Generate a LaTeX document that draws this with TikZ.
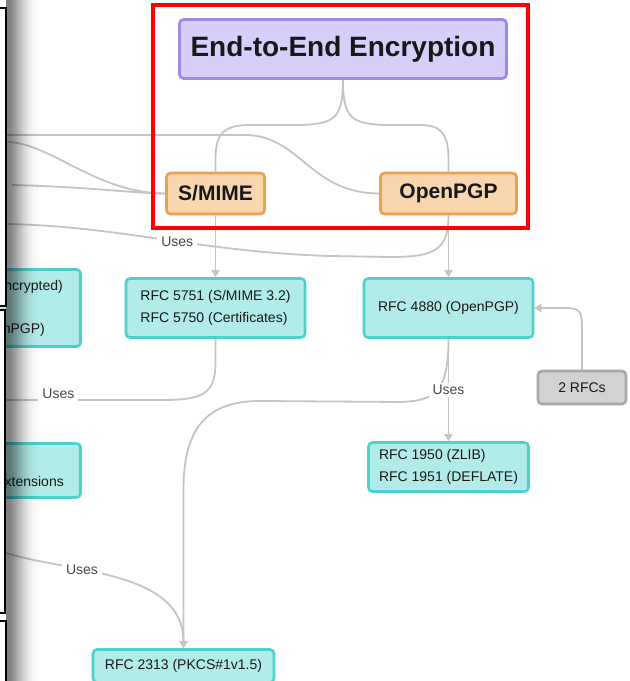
\documentclass[tikz,border=0pt]{standalone}
\usepackage{fontspec}
\setmainfont{Liberation Sans}
\usepackage{xcolor}
\usepackage{tikz}
\usetikzlibrary{positioning,arrows.meta}

\tikzset{
  box/.style={rounded corners=4pt, line width=2.6pt, inner sep=0pt, text=textColor},
  topic/.style={box, draw=topicBorder, fill=topicFill, font=\bfseries\fontsize{28}{34}\selectfont},
  proto/.style={box, draw=protoBorder, fill=protoFill, font=\bfseries\fontsize{21}{25}\selectfont},
  rfc/.style={box, draw=rfcBorder, fill=rfcFill, font=\fontsize{14}{22}\selectfont, align=left},
  note/.style={box, draw=noteBorder, fill=noteFill, font=\fontsize{14}{17}\selectfont},
  frag/.style={text=textColor, font=\fontsize{14}{17}\selectfont, inner sep=0pt},
  link/.style={draw=linkColor, line width=1.8pt},
  linkArrow/.style={link, -{Triangle[length=7pt,width=8pt]}},
  uses/.style={fill=white, text=usesColor, font=\fontsize{14}{17}\selectfont, inner xsep=4pt, inner ysep=2pt},
  panel/.style={draw=black, fill=white, line width=2.5pt}
}

\begin{document}
\begin{tikzpicture}[x=1pt,y=1pt]
\definecolor{topicFill}{RGB}{216,206,250}
\definecolor{topicBorder}{RGB}{158,136,238}
\definecolor{protoFill}{RGB}{249,214,176}
\definecolor{protoBorder}{RGB}{238,160,80}
\definecolor{rfcFill}{RGB}{178,236,234}
\definecolor{rfcBorder}{RGB}{78,208,204}
\definecolor{noteFill}{RGB}{210,210,210}
\definecolor{noteBorder}{RGB}{168,168,168}
\definecolor{linkColor}{RGB}{196,196,196}
\definecolor{textColor}{RGB}{24,24,24}
\definecolor{usesColor}{RGB}{72,72,72}
\path[use as bounding box,fill=white] (0,0) rectangle (630,681);

\node[topic, minimum width=327pt, minimum height=59pt] (e2e) at (343,632) {End-to-End Encryption};
\node[proto, minimum width=98pt, minimum height=41pt] (smime) at (215.5,487.5) {S/MIME};
\node[proto, minimum width=136pt, minimum height=41pt] (openpgp) at (448.5,487.5) {OpenPGP};

\node[rfc, minimum width=109pt, minimum height=77pt] (pgpmime) at (26,373) {};
\node[rfc, minimum width=109pt, minimum height=54pt] (mimeext) at (26,210.5) {};
\node[frag, anchor=east] (pgpmimeTop) at (63,394) {ncrypted)};
\node[frag, anchor=east] (pgpmimeBot) at (45,351) {nPGP)};
\node[frag, anchor=east] (mimeextText) at (64,200) {xtensions};

\node[rfc, minimum width=179pt, minimum height=59pt] (r5751) at (215.5,373) {RFC 5751 (S/MIME 3.2)\\RFC 5750 (Certificates)};
\node[rfc, minimum width=169pt, minimum height=59pt] (r4880) at (448.5,373) {RFC 4880 (OpenPGP)};
\node[note, minimum width=88pt, minimum height=33pt] (twoRFCs) at (582,293.5) {2 RFCs};
\node[rfc, minimum width=160pt, minimum height=49pt] (r1950) at (448.5,214) {RFC 1950 (ZLIB)\\RFC 1951 (DEFLATE)};
\node[rfc, minimum width=181pt, minimum height=33pt] (r2313) at (183.5,15) {RFC 2313 (PKCS\#1v1.5)};

\coordinate (inA) at (6,546);
\coordinate (inB) at (6,539);
\coordinate (inC) at (12,496);
\coordinate (inD) at (6,457);
\coordinate (outE) at (6,281);
\coordinate (inF) at (6,128);

\draw[link] (e2e.south) .. controls (343,563) and (335,557) .. (300,556) -- (250,556) .. controls (222,556) and (215.5,546) .. (215.5,521) -- (smime.north);
\draw[link] (e2e.south) .. controls (343,563) and (351,557) .. (386,556) -- (420,556) .. controls (442,556) and (448.5,546) .. (448.5,521) -- (openpgp.north);

\draw[link] (inA) -- (245,546) .. controls (300,546) and (310,487.5) .. (openpgp.west);
\draw[link] (inB) .. controls (50,539) and (95,488) .. (smime.west);
\draw[link] (inC) .. controls (90,494) and (130,488) .. (smime.west);
\draw[link] (openpgp.south) .. controls (448.5,431) and (435,424) .. (390,424) -- (330,425) .. controls (200,429) and (120,455) .. (inD) node[uses, pos=0.45] (usesPGP) {Uses};

\draw[linkArrow] (smime.south) -- (r5751.north);
\draw[linkArrow] (openpgp.south) -- (r4880.north);
\draw[link] (r5751.south) -- (215.5,318) .. controls (215.5,285) and (200,281) .. (160,281) -- (outE) node[uses, pos=0.66, yshift=6pt] (usesSMIME) {Uses};

\draw[linkArrow] (r4880.south) .. controls (448.5,289) and (435,280) .. (400,279) -- (260,280) .. controls (205,280) and (183.5,251) .. (183.5,191) -- (r2313.north);
\draw[linkArrow] (r4880.south) -- (r1950.north) node[uses, midway] (usesZlib) {Uses};
\draw[linkArrow] (inF) .. controls (70,108) and (183.5,111) .. (r2313.north) node[uses, pos=0.34] (usesPKCS) {Uses};
\draw[linkArrow] (twoRFCs.north) -- (582,356) .. controls (582,371) and (578,373) .. (565,373) -- (r4880.east);

\draw[red, line width=3.2pt] (153,676) rectangle (528,453);

\foreach \i [evaluate=\i as \op using {0.5*exp(-(\i/17)^2)}] in {0,...,32}
  \fill[black, fill opacity=\op] (6+\i,-5) rectangle (7+\i,690);

\path[panel] (-10,673) rectangle (6,375);
\path[panel] (-10,371) rectangle (5,68);
\path[panel] (-10,60) rectangle (6,-20);
\end{tikzpicture}
\end{document}
